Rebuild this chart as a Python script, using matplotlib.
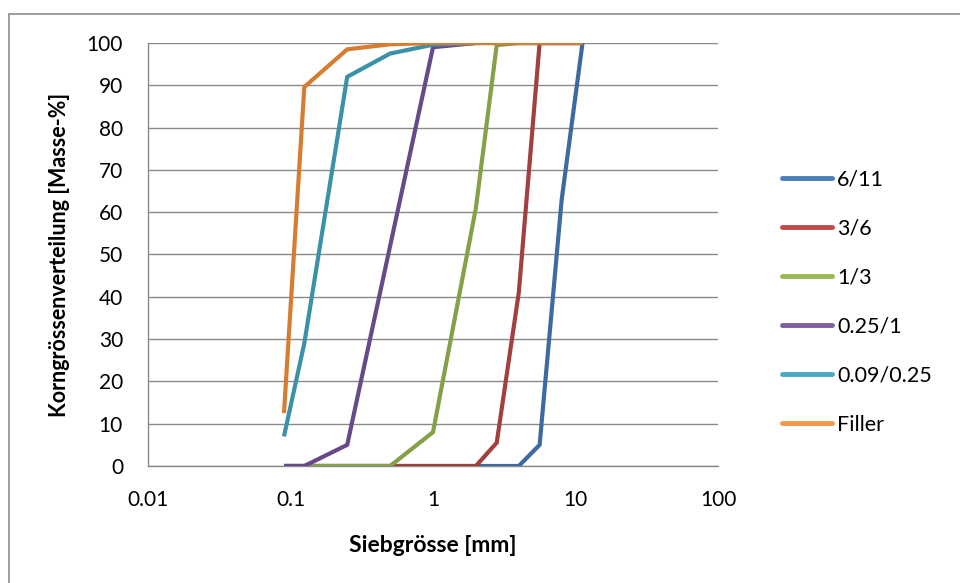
import matplotlib
matplotlib.use("Agg")
import matplotlib.pyplot as plt
from matplotlib.lines import Line2D
from matplotlib.patches import Rectangle

plt.rcParams['font.family'] = ['Lato', 'DejaVu Sans']

# Sieve sizes [mm]
sieve_mm = [0.09, 0.125, 0.25, 0.5, 1, 2, 2.8, 4, 5.6, 8, 11.2]

# Passing fractions [mass-%] per grading
labels = ["6/11", "3/6", "1/3", "0.25/1", "0.09/0.25", "Filler"]
pass_6_11 = [0, 0, 0, 0, 0, 0, 0, 0, 5, 63, 100]
pass_3_6 = [0, 0, 0, 0, 0, 0, 5.5, 41, 100, 100, 100]
pass_1_3 = [0, 0, 0, 0, 8, 61, 99.5, 100, 100, 100, 100]
pass_025_1 = [0, 0, 5, 52, 99, 100, 100, 100, 100, 100, 100]
pass_009_025 = [7, 29, 92, 97.5, 99.6, 100, 100, 100, 100, 100, 100]
pass_filler = [12.5, 89.6, 98.5, 99.7, 100, 100, 100, 100, 100, 100, 100]

x_ticks = [0.01, 0.1, 1, 10, 100]
x_ticklabels = ["0.01", "0.1", "1", "10", "100"]
y_ticks = list(range(0, 101, 10))

series = [pass_6_11, pass_3_6, pass_1_3, pass_025_1, pass_009_025, pass_filler]
line_colors = ["#3d6aa1", "#a33f3c", "#85a046", "#664b88", "#3a91a8", "#d67d32"]
legend_colors = ["#4a7ebb", "#be4b48", "#98b954", "#7d60a0", "#46aac5", "#f79646"]

fig = plt.figure(figsize=(9.6, 5.83), dpi=100)
ax = fig.add_axes([148 / 960, 1 - 466 / 583, 570 / 960, 423 / 583])

# Outer chart frame
fig.patches.append(Rectangle((9 / 960, -0.1), 1.2, 1 - 14 / 583 + 0.1,
                             transform=fig.transFigure, fill=False,
                             edgecolor="#8c8c8c", linewidth=1.2, zorder=0))

for vals, col in zip(series, line_colors):
    ax.plot(sieve_mm, vals, color=col, linewidth=3.0,
            solid_joinstyle="miter", solid_capstyle="butt", zorder=3)

ax.set_xscale("log")
ax.set_xlim(0.01, 100)
ax.set_ylim(0, 100)
ax.set_xticks(x_ticks)
ax.set_xticklabels(x_ticklabels)
ax.set_xticks([], minor=True)
ax.set_yticks(y_ticks)
ax.tick_params(axis="both", length=0, labelsize=15)
ax.tick_params(axis="y", pad=18)
ax.tick_params(axis="x", pad=17)

ax.grid(axis="y", color="#8a8a8a", linewidth=1.0)
ax.set_axisbelow(True)
for side in ["top", "right"]:
    ax.spines[side].set_visible(False)
for side in ["left", "bottom"]:
    ax.spines[side].set_color("#8a8a8a")
    ax.spines[side].set_linewidth(1.0)

ax.set_xlabel("Siebgrösse [mm]", fontsize=16.5, fontweight="bold", va="center")
ax.set_ylabel("Korngrössenverteilung [Masse-%]", fontsize=15.5, fontweight="bold", va="center")
ax.xaxis.set_label_coords(0.5, (466 - 546) / 423)
ax.yaxis.set_label_coords((60 - 148) / 570, 0.5)

handles = [Line2D([0], [0], color=c, linewidth=3.5, solid_capstyle="round") for c in legend_colors]
fig.legend(handles, labels, loc="center left", bbox_to_anchor=(763 / 960, 1 - 302 / 583),
           frameon=False, fontsize=15.5, handlelength=2.3, handletextpad=0.25,
           labelspacing=1.35)

fig.savefig("out.png", dpi=100)
